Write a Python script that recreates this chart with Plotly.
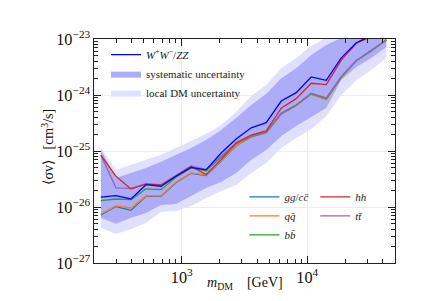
import numpy as np
import plotly.graph_objects as go

# ---------------- data ----------------
mass = [227, 299, 394, 519, 684, 901, 1187, 1563, 2060, 2713,
        3574, 4708, 6201, 8168, 10759, 14172, 18668, 24590, 32390, 42666]

sv_WW = [1.5e-26, 1.6e-26, 1.39e-26, 2.5e-26, 2.35e-26, 3.55e-26, 5.1e-26, 4.6e-26, 9.2e-26, 1.64e-25,
         2.6e-25, 3.2e-25, 7.8e-25, 1.1e-24, 2.1e-24, 1.83e-24, 4.6e-24, 8.6e-24, 1.15e-23, 1.35e-23]
sv_gg = [7.2e-27, 1.02e-26, 8.7e-27, 1.55e-26, 1.55e-26, 2.75e-26, 4.0e-26, 3.65e-26, 6.6e-26, 1.24e-25,
         1.79e-25, 2.13e-25, 4.58e-25, 6.48e-25, 1.04e-24, 8.3e-25, 2.07e-24, 4.1e-24, 6.2e-24, 9.6e-24]
sv_qq = [7.5e-27, 1.05e-26, 9.6e-27, 1.58e-26, 1.58e-26, 2.8e-26, 4.05e-26, 3.7e-26, 6.7e-26, 1.25e-25,
         1.8e-25, 2.14e-25, 4.6e-25, 6.5e-25, 1.05e-24, 8.3e-25, 2.08e-24, 4.1e-24, 6.2e-24, 9.6e-24]
sv_bb = [1.3e-26, 1.39e-26, 1.35e-26, 2.1e-26, 2.04e-26, 3.4e-26, 5.0e-26, 4.45e-26, 7.7e-26, 1.35e-25,
         1.82e-25, 2.16e-25, 4.66e-25, 6.55e-25, 1.06e-24, 8.7e-25, 2.1e-24, 4.1e-24, 6.2e-24, 9.6e-24]
sv_hh = [8.4e-26, 3.55e-26, 2.09e-26, 2.57e-26, 2.45e-26, 3.6e-26, 5.3e-26, 3.8e-26, 7.0e-26, 1.4e-25,
         1.93e-25, 2.28e-25, 5.8e-25, 8.6e-25, 1.62e-24, 1.53e-24, 4.2e-24, 8.4e-24, 1.1e-23, 1.3e-23]
sv_tt = [8.4e-26, 2.2e-26, 2.15e-26, 2.6e-26, 2.5e-26, 3.7e-26, 5.4e-26, 4.7e-26, 8.0e-26, 1.38e-25,
         1.86e-25, 2.2e-25, 4.75e-25, 6.7e-25, 1.08e-24, 8.9e-25, 2.12e-24, 4.15e-24, 6.25e-24, 9.7e-24]

sys_hi = [1.05e-25, 3.3e-26, 4.05e-26, 4.97e-26, 6.4e-26, 8.5e-26, 1.13e-25, 1.57e-25, 2.37e-25, 3.9e-25,
          6.6e-25, 1.04e-24, 2.0e-24, 3.0e-24, 5.2e-24, 7.8e-24, 1.04e-23, 1.6e-23, 2.2e-23, 3.0e-23]
sys_lo = [6.4e-27, 5.0e-27, 6.4e-27, 7.8e-27, 1.09e-26, 1.13e-26, 1.57e-26, 2.19e-26, 2.8e-26, 4.05e-26,
          6.9e-26, 1.04e-25, 1.85e-25, 2.8e-25, 4.05e-25, 5.86e-25, 1.85e-24, 3.16e-24, 4.6e-24, 7.2e-24]
loc_hi = [1.13e-25, 4.6e-26, 5.7e-26, 7.0e-26, 8.6e-26, 1.13e-25, 1.51e-25, 2.01e-25, 2.9e-25, 4.97e-25,
          9.6e-25, 1.51e-24, 3.0e-24, 4.6e-24, 7.5e-24, 1.08e-23, 1.5e-23, 2.2e-23, 3.0e-23, 4.0e-23]
loc_lo = [4.2e-27, 3.3e-27, 4.05e-27, 5.2e-27, 8.1e-27, 8.5e-27, 1.04e-26, 1.45e-26, 1.93e-26, 2.47e-26,
          4.05e-26, 6.1e-26, 1.13e-25, 1.71e-25, 2.47e-25, 4.2e-25, 1.0e-24, 1.85e-24, 2.8e-24, 4.6e-24]

x_range = [200, 50000]
y_range = [1e-27, 1e-23]
x_title = "<i>m</i><sub>DM</sub>    [GeV]"
y_title = "⟨σv⟩   [cm<sup>3</sup>/s]"

# ---------------- styles ----------------
SERIF = "Liberation Serif, Times New Roman, serif"
C_SYS = "rgb(172,172,248)"
C_LOC = "rgb(224,224,252)"

fig = go.Figure()

# local DM uncertainty (light band)
fig.add_trace(go.Scatter(x=mass, y=loc_hi, mode="lines", line=dict(width=0),
                         showlegend=False, hoverinfo="skip"))
fig.add_trace(go.Scatter(x=mass, y=loc_lo, mode="lines", line=dict(width=0),
                         fill="tonexty", fillcolor=C_LOC, name="local DM uncertainty",
                         legend="legend", legendrank=3))
# systematic uncertainty (dark band)
fig.add_trace(go.Scatter(x=mass, y=sys_hi, mode="lines", line=dict(width=0),
                         showlegend=False, hoverinfo="skip"))
fig.add_trace(go.Scatter(x=mass, y=sys_lo, mode="lines", line=dict(width=0),
                         fill="tonexty", fillcolor=C_SYS, name="systematic uncertainty",
                         legend="legend", legendrank=2))

LW = 1.3
fig.add_trace(go.Scatter(x=mass, y=sv_gg, mode="lines", line=dict(color="#1f77b4", width=LW),
                         name="<i>gg</i>/<i>c</i><i>c̄</i>", legend="legend2", legendrank=1))
fig.add_trace(go.Scatter(x=mass, y=sv_qq, mode="lines", line=dict(color="#ff7f0e", width=LW),
                         name="<i>q</i><i>q̄</i>", legend="legend2", legendrank=2))
fig.add_trace(go.Scatter(x=mass, y=sv_bb, mode="lines", line=dict(color="#2ca02c", width=LW),
                         name="<i>b</i><i>b̄</i>", legend="legend2", legendrank=3))
fig.add_trace(go.Scatter(x=mass, y=sv_tt, mode="lines", line=dict(color="#9467bd", width=LW),
                         name="<i>t</i><i>t̄</i>", legend="legend3", legendrank=2))
fig.add_trace(go.Scatter(x=mass, y=sv_hh, mode="lines", line=dict(color="#d62728", width=LW),
                         name="<i>hh</i>", legend="legend3", legendrank=1))
fig.add_trace(go.Scatter(x=mass, y=sv_WW, mode="lines", line=dict(color="#0000ff", width=LW),
                         name="<i>W</i><sup>+</sup><i>W</i><sup>−</sup>/<i>ZZ</i>",
                         legend="legend", legendrank=1))

axis_common = dict(
    type="log", showline=True, linecolor="#222", linewidth=1.3, mirror="ticks",
    ticks="inside", ticklen=7, tickwidth=1.1, tickcolor="#222",
    showgrid=True, gridcolor="#ececec", gridwidth=1, zeroline=False,
    exponentformat="power", dtick=1, automargin=False,
    tickfont=dict(family=SERIF, size=13, color="#111"),
    minor=dict(ticks="inside", ticklen=3.5, tickwidth=0.8, tickcolor="#222",
               dtick="D1", showgrid=False),
)

fig.update_xaxes(**axis_common, range=[np.log10(x_range[0]), np.log10(x_range[1])])
fig.update_yaxes(**axis_common, range=[np.log10(y_range[0]), np.log10(y_range[1])])

title_font = dict(family=SERIF, size=14, color="#111")
fig.add_annotation(text=x_title, xref="paper", yref="paper", x=0.5, y=-0.092,
                   xanchor="center", yanchor="middle", showarrow=False, font=title_font)
fig.add_annotation(text=y_title, xref="paper", yref="paper", x=-0.156, y=0.52,
                   xanchor="center", yanchor="middle", showarrow=False, textangle=-90,
                   font=title_font)

leg_common = dict(bgcolor="rgba(0,0,0,0)", borderwidth=0,
                  font=dict(family=SERIF, size=11, color="#222"),
                  xanchor="left", yanchor="top", itemwidth=30, traceorder="normal")
fig.update_layout(
    template="none",
    width=430, height=301,
    margin=dict(l=86, r=43, t=31, b=46),
    paper_bgcolor="white", plot_bgcolor="white",
    legend=dict(**leg_common, x=0.04, y=0.995),
    legend2=dict(**leg_common, x=0.5, y=0.36),
    legend3=dict(**leg_common, x=0.735, y=0.36),
)

fig.write_html("out.html")
